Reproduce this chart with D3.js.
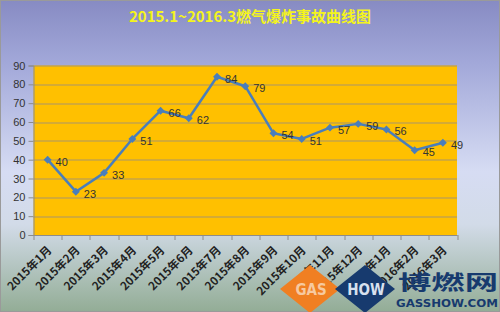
<!DOCTYPE html>
<html>
<head>
<meta charset="utf-8">
<script src="https://cdn.jsdelivr.net/npm/d3@7"></script>
<style>
  body { margin: 0; padding: 0; }
  svg { display: block; font-family: "Noto Sans CJK SC", "DejaVu Sans", sans-serif; }
</style>
</head>
<body>
<div id="chart"></div>
<script>
// data
var months = ["2015年1月", "2015年2月", "2015年3月", "2015年4月", "2015年5月", "2015年6月",
    "2015年7月", "2015年8月", "2015年9月", "2015年10月", "2015年11月", "2015年12月",
    "2016年1月", "2016年2月", "2016年3月"];
var accidents = [40, 23, 33, 51, 66, 62, 84, 79, 54, 51, 57, 59, 56, 45, 49];
var yTicks = [0, 10, 20, 30, 40, 50, 60, 70, 80, 90];

var W = 500, H = 312;
var margin = {top: 65.5, right: 43, bottom: 77, left: 33.5},
    width = W - margin.left - margin.right,
    height = H - margin.top - margin.bottom;

var svg = d3.select("#chart").append("svg")
    .attr("width", W)
    .attr("height", H);

// background gradient
var defs = svg.append("defs");
var grad = defs.append("linearGradient")
    .attr("id", "bg")
    .attr("x1", 0).attr("y1", 0).attr("x2", 0).attr("y2", 1);
[["0%", "#878bc3"], ["20%", "#a2a8d9"], ["55%", "#d6dcf3"], ["72%", "#d2dbe8"], ["100%", "#93ad96"]]
    .forEach(function(s) { grad.append("stop").attr("offset", s[0]).attr("stop-color", s[1]); });

svg.append("rect")
    .attr("x", 0.5).attr("y", 0.5)
    .attr("width", W - 1).attr("height", H - 1)
    .attr("fill", "url(#bg)")
    .attr("stroke", "#9a9a9a");

// title
svg.append("text")
    .attr("x", 250)
    .attr("y", 22)
    .attr("text-anchor", "middle")
    .attr("font-size", "15px")
    .attr("font-weight", "bold")
    .attr("fill", "#f4f41c")
    .text("2015.1~2016.3燃气爆炸事故曲线图");

var g = svg.append("g")
    .attr("transform", "translate(" + margin.left + "," + margin.top + ")");

// scales
var x = d3.scaleBand()
    .domain(months)
    .range([0, width]);
var y = d3.scaleLinear()
    .domain([0, 90])
    .range([height, 0]);

// plot area
g.append("rect")
    .attr("width", width)
    .attr("height", height)
    .attr("fill", "#ffc000");

// gridlines
g.selectAll(".grid")
    .data(yTicks.slice(1))
    .enter().append("line")
    .attr("class", "grid")
    .attr("x1", 0).attr("x2", width)
    .attr("y1", function(d) { return Math.round(y(d)) + 0.5; })
    .attr("y2", function(d) { return Math.round(y(d)) + 0.5; })
    .attr("stroke", "#a8956a")
    .attr("stroke-width", 1);

// y axis
var yAxis = g.append("g")
    .call(d3.axisLeft(y).tickValues(yTicks).tickSize(5).tickPadding(3));
yAxis.select(".domain").attr("stroke", "#8c8c8c");
yAxis.selectAll(".tick line").attr("stroke", "#8c8c8c");
yAxis.selectAll("text")
    .attr("font-size", "11px")
    .attr("fill", "#333")
    .attr("font-family", "Liberation Sans, Arial, sans-serif");

// x axis
var xAxis = g.append("g")
    .attr("transform", "translate(0," + height + ")")
    .call(d3.axisBottom(x).tickSize(0).tickFormat(""));
xAxis.select(".domain").attr("stroke", "#8c8c8c");

// tick marks at band edges
g.selectAll(".xtick")
    .data(d3.range(months.length + 1))
    .enter().append("line")
    .attr("class", "xtick")
    .attr("x1", function(i) { return Math.round(i * x.step()) + 0.5; })
    .attr("x2", function(i) { return Math.round(i * x.step()) + 0.5; })
    .attr("y1", height).attr("y2", height + 5)
    .attr("stroke", "#8c8c8c");

// x labels, rotated
g.selectAll(".xlabel")
    .data(months)
    .enter().append("text")
    .attr("class", "xlabel")
    .attr("transform", function(d) {
        return "translate(" + (x(d) + x.bandwidth() / 2 + 2) + "," + (height + 13) + ") rotate(-45)";
    })
    .attr("text-anchor", "end")
    .attr("dy", "0.35em")
    .attr("font-size", "11.5px")
    .attr("font-weight", "bold")
    .attr("fill", "#222")
    .text(function(d) { return d; });

// line
var line = d3.line()
    .x(function(d, i) { return x(months[i]) + x.bandwidth() / 2; })
    .y(function(d) { return y(d); });

g.append("path")
    .datum(accidents)
    .attr("fill", "none")
    .attr("stroke", "#4a7ebb")
    .attr("stroke-width", 2.5)
    .attr("stroke-linejoin", "round")
    .attr("d", line);

// diamond markers
g.selectAll(".marker")
    .data(accidents)
    .enter().append("path")
    .attr("class", "marker")
    .attr("d", d3.symbol().type(d3.symbolDiamond2).size(40))
    .attr("transform", function(d, i) {
        return "translate(" + (x(months[i]) + x.bandwidth() / 2) + "," + y(d) + ")";
    })
    .attr("fill", "#4a7ebb");

// value labels
g.selectAll(".label")
    .data(accidents)
    .enter().append("text")
    .attr("class", "label")
    .attr("x", function(d, i) { return x(months[i]) + x.bandwidth() / 2 + 8; })
    .attr("y", function(d) { return y(d) + 2; })
    .attr("dy", "0.35em")
    .attr("font-size", "11px")
    .attr("fill", "#333")
    .attr("font-family", "Liberation Sans, Arial, sans-serif")
    .text(function(d) { return d; });

// watermark logo
var logo = svg.append("g");
logo.append("path")
    .attr("d", "M310,265 L340,289 L310,313 L280,289 Z")
    .attr("fill", "#f07f22");
logo.append("path")
    .attr("d", "M365,265 L395,289 L365,313 L335,289 Z")
    .attr("fill", "#173a6e");
logo.append("text")
    .attr("x", 311).attr("y", 295)
    .attr("text-anchor", "middle")
    .attr("font-size", "15px")
    .attr("font-weight", "bold")
    .attr("fill", "#f6c9a0")
    .attr("font-family", "DejaVu Sans Condensed, sans-serif")
    .text("GAS");
logo.append("text")
    .attr("x", 366).attr("y", 295)
    .attr("text-anchor", "middle")
    .attr("font-size", "15px")
    .attr("font-weight", "bold")
    .attr("fill", "#d8e0ee")
    .attr("font-family", "DejaVu Sans Condensed, sans-serif")
    .text("HOW");
logo.append("text")
    .attr("x", 398).attr("y", 290)
    .attr("font-size", "20px")
    .attr("font-weight", "bold")
    .attr("fill", "#173a6e")
    .attr("textLength", 100)
    .attr("lengthAdjust", "spacingAndGlyphs")
    .text("博燃网");
logo.append("text")
    .attr("x", 396).attr("y", 307)
    .attr("font-size", "10.5px")
    .attr("font-weight", "bold")
    .attr("fill", "#173a6e")
    .attr("textLength", 102)
    .attr("lengthAdjust", "spacingAndGlyphs")
    .attr("font-family", "DejaVu Sans, sans-serif")
    .text("GASSHOW.COM");
</script>
</body>
</html>
